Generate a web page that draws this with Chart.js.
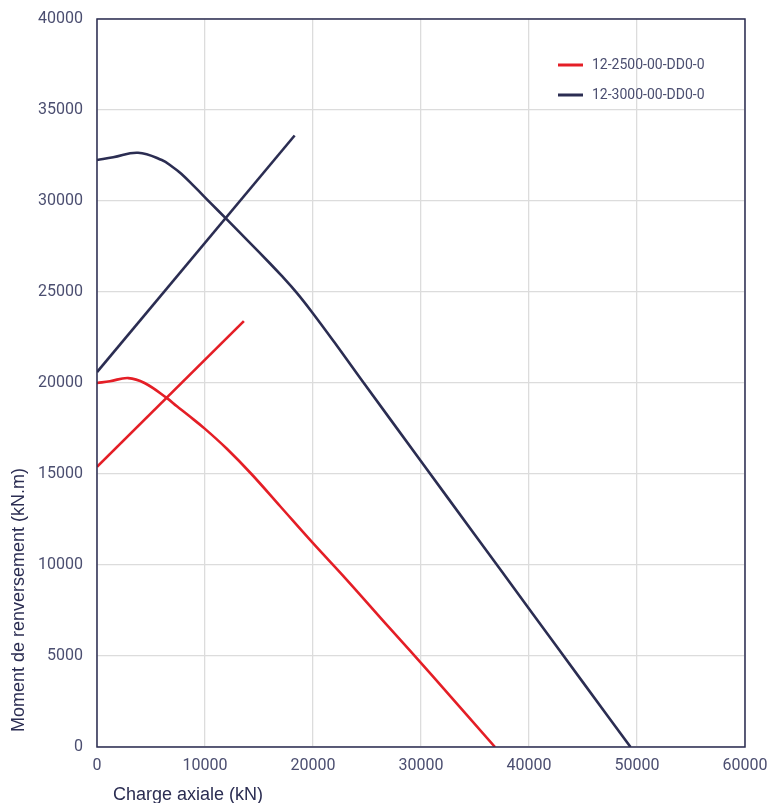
<!DOCTYPE html>
<html><head><meta charset="utf-8">
<script src="https://cdn.jsdelivr.net/npm/chart.js@4/dist/chart.umd.min.js"></script>
<style>html,body{margin:0;padding:0;background:#fff;}#wrap{width:770px;height:803px;position:relative;}</style>
</head><body><div id="wrap"><canvas id="c"></canvas></div>
<script>
// ---- data ----
const seriesNames = ['12-2500-00-DD0-0', '12-3000-00-DD0-0'];
const xAxisTitle = 'Charge axiale (kN)';
const yAxisTitle = 'Moment de renversement (kN.m)';
const xTickStep = 10000, xMax = 60000;
const yTickStep = 5000, yMax = 40000;

// 12-2500 curve (kN, kN.m)
const curve2500X = [0, 1200, 2900, 4400, 6450, 7400, 8400, 10000, 12000, 14300, 17000, 20000, 23000, 27000, 31000, 36850];
const curve2500Y = [20000, 20100, 20270, 20000, 19180, 18720, 18250, 17480, 16400, 15000, 13200, 11200, 9270, 6600, 3950, 0];
// 12-2500 straight line
const line2500X = [0, 13600];
const line2500Y = [15400, 23400];

// 12-3000 curve
const curve3000X = [0, 1500, 3800, 6000, 7000, 7800, 9000, 10500, 12000, 14000, 16000, 17000, 18500, 20000, 22000, 24400, 30000, 35000, 40000, 45000, 49400];
const curve3000Y = [32250, 32400, 32650, 32250, 31870, 31500, 30800, 29900, 29000, 27800, 26580, 25950, 24950, 23820, 22220, 20250, 15700, 11650, 7600, 3550, 0];
// 12-3000 straight line
const line3000X = [0, 18300];
const line3000Y = [20600, 33600];

const RED = '#e41e26', NAVY = '#2b2d52', TXT = '#4b4e70', GRID = '#dcdcdc';
const pts = (xs, ys) => xs.map((x, i) => ({x, y: ys[i]}));

const titlesPlugin = {
  id: 'extras',
  afterDraw(chart) {
    const {ctx, chartArea: a} = chart;
    ctx.save();
    ctx.strokeStyle = NAVY; ctx.lineWidth = 1.5;
    ctx.strokeRect(a.left, a.top, a.right - a.left, a.bottom - a.top);
    ctx.fillStyle = NAVY;
    ctx.font = '18px "Liberation Sans", Arial, sans-serif';
    ctx.textBaseline = 'middle'; ctx.textAlign = 'left';
    ctx.fillText(xAxisTitle, a.left + 16, 795);
    ctx.translate(19, a.bottom - 15);
    ctx.rotate(-Math.PI / 2);
    ctx.fillText(yAxisTitle, 0, 0);
    ctx.restore();
    // legend
    ctx.save();
    ctx.font = '14px Roboto, sans-serif';
    ctx.textBaseline = 'middle'; ctx.textAlign = 'left';
    let i = 0;
    chart.data.datasets.forEach(ds => {
      if (!ds.inLegend) return;
      const y = 65 + i * 30;
      ctx.strokeStyle = ds.borderColor; ctx.lineWidth = 3;
      ctx.beginPath(); ctx.moveTo(558, y); ctx.lineTo(583, y); ctx.stroke();
      ctx.fillStyle = TXT;
      ctx.fillText(ds.label, 592, y);
      i++;
    });
    ctx.restore();
  }
};

const plain = v => String(v);

new Chart(document.getElementById('c'), {
  type: 'line',
  data: {
    datasets: [
      {label: seriesNames[0], inLegend: true, data: pts(curve2500X, curve2500Y), borderColor: RED, tension: 0.4},
      {label: seriesNames[0] + ' ', data: pts(line2500X, line2500Y), borderColor: RED},
      {label: seriesNames[1], inLegend: true, data: pts(curve3000X, curve3000Y), borderColor: NAVY, tension: 0.4},
      {label: seriesNames[1] + ' ', data: pts(line3000X, line3000Y), borderColor: NAVY}
    ]
  },
  options: {
    responsive: true, maintainAspectRatio: false, animation: false, devicePixelRatio: 1,
    layout: {padding: {left: 0, right: 25, top: 19, bottom: 0}},
    elements: {point: {radius: 0}, line: {borderWidth: 2.6, fill: false}},
    plugins: {legend: {display: false}, tooltip: {enabled: false}},
    scales: {
      x: {
        type: 'linear', min: 0, max: xMax,
        ticks: {stepSize: xTickStep, color: TXT, font: {family: 'Roboto', size: 16}, padding: 9, maxRotation: 0, callback: plain},
        grid: {color: GRID, lineWidth: 1.3, drawTicks: false},
        border: {display: false},
        afterFit(s) { s.height = 56; s.paddingLeft = 0; s.paddingRight = 0; }
      },
      y: {
        type: 'linear', min: 0, max: yMax,
        ticks: {stepSize: yTickStep, color: TXT, font: {family: 'Roboto', size: 16}, padding: 14, callback: plain},
        grid: {color: GRID, lineWidth: 1.3, drawTicks: false},
        border: {display: false},
        afterFit(s) { s.width = 97; s.paddingTop = 0; s.paddingBottom = 0; }
      }
    }
  },
  plugins: [titlesPlugin]
});
</script></body></html>
